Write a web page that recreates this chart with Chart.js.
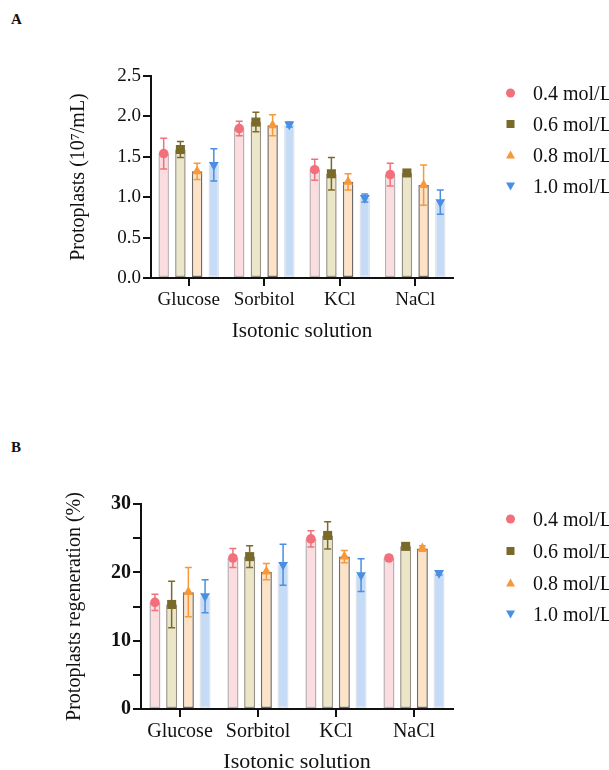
<!DOCTYPE html>
<html>
<head>
<meta charset="utf-8">
<script src="https://cdn.jsdelivr.net/npm/chart.js@4.4.1/dist/chart.umd.min.js"></script>
<style>
  html, body { margin: 0; padding: 0; background: #fff; }
  body { position: relative; width: 609px; height: 770px; overflow: hidden;
         font-family: 'Liberation Serif', 'Times New Roman', serif; color: #111; }
  canvas { position: absolute; left: 0; }
  #chartA { top: 0; }
  #chartB { top: 385px; }
  .tag { position: absolute; left: 11px; font-weight: bold; font-size: 15px; line-height: 15px; }
  .row { position: absolute; left: 500px; height: 22px; display: flex; align-items: center;
         white-space: nowrap; font-size: 20px; }
  .row svg { width: 21px; height: 22px; margin-right: 12px; flex: none; }
</style>
</head>
<body>
<div class="tag" style="top:12px">A</div>
<div class="tag" style="top:440px">B</div>
<canvas id="chartA" width="609" height="385"></canvas>
<canvas id="chartB" width="609" height="415"></canvas>
<div id="legendA"></div>
<div id="legendB"></div>
<script>
// data
const categories = ['Glucose', 'Sorbitol', 'KCl', 'NaCl'];
const concLabels = ['0.4 mol/L', '0.6 mol/L', '0.8 mol/L', '1.0 mol/L'];

// A: protoplast yield (10^7/mL)
const yield04 = [1.54, 1.85, 1.34, 1.28];
const yield06 = [1.59, 1.93, 1.29, 1.30];
const yield08 = [1.32, 1.89, 1.19, 1.15];
const yield10 = [1.40, 1.90, 0.99, 0.94];
const yieldErr04 = [0.19, 0.09, 0.13, 0.14];
const yieldErr06 = [0.10, 0.12, 0.20, 0.02];
const yieldErr08 = [0.10, 0.13, 0.10, 0.25];
const yieldErr10 = [0.20, 0.03, 0.05, 0.15];

// B: regeneration (%)
const regen04 = [15.6, 22.1, 24.9, 22.1];
const regen06 = [15.3, 22.3, 25.4, 23.8];
const regen08 = [17.1, 20.1, 22.3, 23.5];
const regen10 = [16.5, 21.1, 19.6, 19.9];
const regenErr04 = [1.2, 1.4, 1.2, 0.2];
const regenErr06 = [3.4, 1.6, 2.0, 0.3];
const regenErr08 = [3.6, 1.2, 0.9, 0.4];
const regenErr10 = [2.4, 3.0, 2.4, 0.3];

const yTicksA = [0, 0.5, 1.0, 1.5, 2.0, 2.5];
const yTicksB = [0, 10, 20, 30];

const FONT = "'Liberation Serif', 'Times New Roman', serif";
const INK = '#111';

const seriesStyle = [
    { fill: '#fbdde0', edge: 'rgba(160,150,150,0.75)', mark: '#f2707c', shape: 'circle', radius: 4.8, rotation: 0 },
    { fill: '#ebe6c8', edge: 'rgba(130,125,110,0.85)', mark: '#7a6a2a', shape: 'rect', radius: 6.4, rotation: 0 },
    { fill: '#fde2c6', edge: 'rgba(95,90,90,0.9)', mark: '#f7983a', shape: 'triangle', radius: 5.8, rotation: 0 },
    { fill: '#c6dbf5', edge: 'rgba(200,210,225,0.6)', mark: '#4a8fe2', shape: 'triangle', radius: 5.8, rotation: 180 }
];

// error bars + markers sit on each bar's own x position
const errorBarPlugin = {
    id: 'errorBars',
    afterDatasetsDraw(chart) {
        const ctx = chart.ctx;
        const y = chart.scales.y;
        chart.data.datasets.forEach((ds, i) => {
            const st = seriesStyle[i];
            chart.getDatasetMeta(i).data.forEach((bar, j) => {
                const v = ds.data[j];
                const e = ds.errors[j];
                const top = y.getPixelForValue(v + e);
                const bot = y.getPixelForValue(v - e);
                ctx.save();
                ctx.strokeStyle = st.mark;
                ctx.lineWidth = 1.5;
                ctx.beginPath();
                ctx.moveTo(bar.x, top); ctx.lineTo(bar.x, bot);
                ctx.moveTo(bar.x - 3.5, top); ctx.lineTo(bar.x + 3.5, top);
                ctx.moveTo(bar.x - 3.5, bot); ctx.lineTo(bar.x + 3.5, bot);
                ctx.stroke();
                ctx.fillStyle = st.mark;
                Chart.helpers.drawPoint(ctx, {
                    pointStyle: st.shape, radius: st.radius, rotation: st.rotation, borderWidth: 0
                }, bar.x, y.getPixelForValue(v));
                ctx.restore();
            });
        });
    }
};

function buildChart(canvasId, p) {
    return new Chart(document.getElementById(canvasId), {
        type: 'bar',
        data: {
            labels: categories,
            datasets: p.values.map((vals, i) => ({
                label: concLabels[i],
                data: vals,
                errors: p.errors[i],
                backgroundColor: seriesStyle[i].fill,
                borderColor: seriesStyle[i].edge,
                borderWidth: 1.5,
                borderSkipped: false,
                categoryPercentage: p.catPct,
                barPercentage: p.barPct
            }))
        },
        options: {
            responsive: false,
            animation: false,
            devicePixelRatio: 1,
            layout: { padding: { left: 0, top: p.padTop, right: 156, bottom: 0 } },
            plugins: { legend: { display: false }, tooltip: { enabled: false } },
            scales: {
                x: {
                    offset: true,
                    grid: { offset: false, drawOnChartArea: false, tickLength: 8, color: INK, lineWidth: 2 },
                    border: { color: INK, width: 2 },
                    ticks: { color: INK, font: { family: FONT, size: p.xTickSize }, padding: 3, maxRotation: 0, autoSkip: false },
                    title: { display: true, text: 'Isotonic solution', color: INK,
                             font: { family: FONT, size: p.xTitleSize }, padding: { top: 0, bottom: p.xTitlePad } },
                    afterFit: s => { s.height = p.xAxisHeight; }
                },
                y: {
                    min: 0,
                    max: p.yTicks[p.yTicks.length - 1],
                    ticks: { stepSize: p.yStep, color: INK, padding: 2, autoSkip: false,
                             font: { family: FONT, size: p.yTickSize, weight: p.yTickWeight },
                             callback: p.yFmt },
                    grid: { drawOnChartArea: false, tickLength: 8, color: INK, lineWidth: 2 },
                    border: { color: INK, width: 2 },
                    title: { display: true, text: p.yTitle, color: INK,
                             font: { family: FONT, size: p.yTitleSize }, padding: { top: p.yTitlePad, bottom: 0 } },
                    afterFit: s => { s.width = p.yAxisWidth; }
                }
            }
        },
        plugins: [errorBarPlugin]
    });
}

buildChart('chartA', {
    values: [yield04, yield06, yield08, yield10],
    errors: [yieldErr04, yieldErr06, yieldErr08, yieldErr10],
    yTicks: yTicksA, yStep: 0.5,
    yFmt: v => yTicksA.includes(v) ? v.toFixed(1) : '',
    yTitle: 'Protoplasts (10\u2077/mL)',
    catPct: 0.885, barPct: 0.63,
    padTop: 76, xAxisHeight: 107, yAxisWidth: 151,
    xTickSize: 19, xTitleSize: 21, xTitlePad: 41,
    yTickSize: 19, yTickWeight: 'normal', yTitleSize: 20, yTitlePad: 67
});

buildChart('chartB', {
    values: [regen04, regen06, regen08, regen10],
    errors: [regenErr04, regenErr06, regenErr08, regenErr10],
    yTicks: yTicksB, yStep: 5,
    yFmt: v => yTicksB.includes(v) ? String(v) : '',
    yTitle: 'Protoplasts regeneration (%)',
    catPct: 0.857, barPct: 0.66,
    padTop: 119, xAxisHeight: 91, yAxisWidth: 141,
    xTickSize: 20, xTitleSize: 22, xTitlePad: 25,
    yTickSize: 20, yTickWeight: 'bold', yTitleSize: 20, yTitlePad: 63
});

// legends
const markerSvg = [
    '<circle cx="10.5" cy="11" r="4.5"/>',
    '<rect x="6.5" y="7" width="8" height="8"/>',
    '<polygon points="10.5,6.5 15,14.5 6,14.5"/>',
    '<polygon points="6,7.5 15,7.5 10.5,15.5"/>'
];
function buildLegend(id, rowCenters) {
    const box = document.getElementById(id);
    concLabels.forEach((txt, i) => {
        const row = document.createElement('div');
        row.className = 'row';
        row.style.top = (rowCenters[i] - 11) + 'px';
        row.innerHTML = '<svg viewBox="0 0 21 22" fill="' + seriesStyle[i].mark + '">' + markerSvg[i] + '</svg><span>' + txt + '</span>';
        box.appendChild(row);
    });
}
buildLegend('legendA', [93, 124, 155, 186]);
buildLegend('legendB', [519, 551, 583, 614]);
</script>
</body>
</html>
